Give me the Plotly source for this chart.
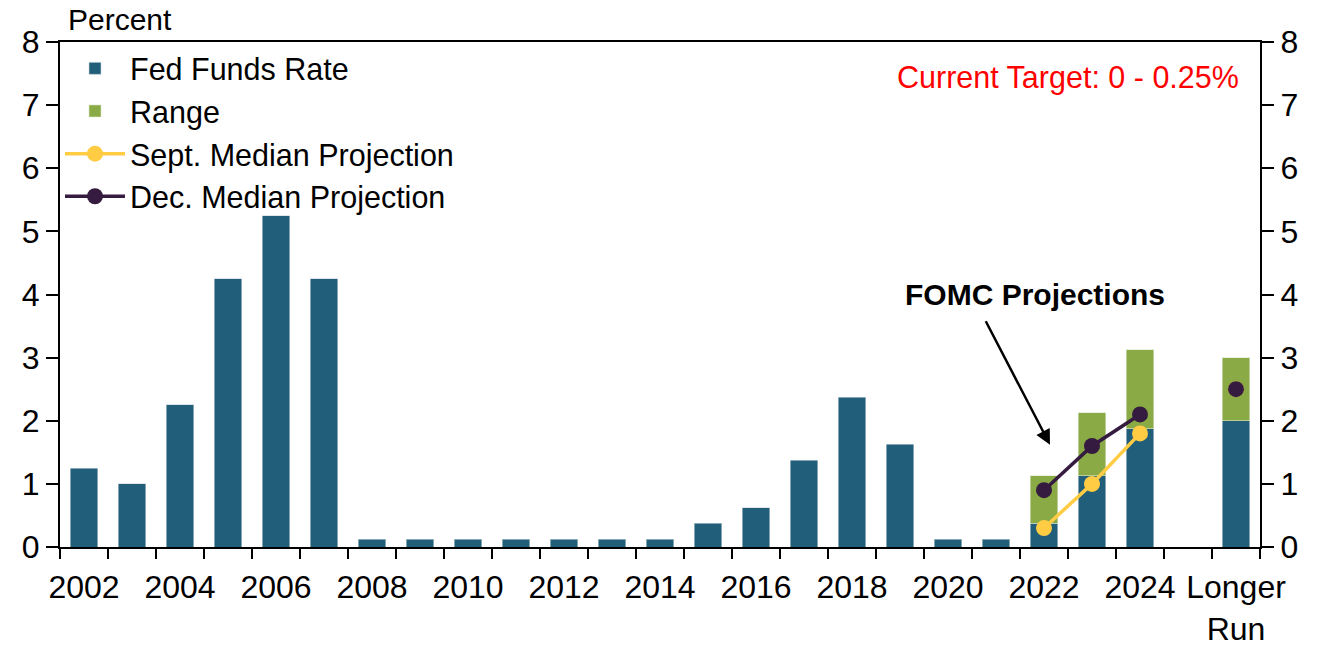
import plotly.graph_objects as go

# Calendar-year categories, a spacer, and the longer-run column
categories = [str(y) for y in range(2002, 2025)] + [" ", "Longer Run"]
tick_labels = [c if (c.isdigit() and int(c) % 2 == 0) else "" for c in categories[:-1]] + ["Longer<br>Run"]

fed_funds = [1.25, 1.0, 2.25, 4.25, 5.25, 4.25, 0.125, 0.125, 0.125, 0.125, 0.125, 0.125, 0.125,
             0.375, 0.625, 1.375, 2.375, 1.625, 0.125, 0.125, 0.375, 1.125, 1.875, None, 2.0]
range_high = {"2022": 1.125, "2023": 2.125, "2024": 3.125, "Longer Run": 3.0}
sept_median = {"2022": 0.3, "2023": 1.0, "2024": 1.8, "Longer Run": 2.5}
dec_median = {"2022": 0.9, "2023": 1.6, "2024": 2.1, "Longer Run": 2.5}

BLUE = "#215E79"
GREEN = "#8AAA45"
YELLOW = "#FFCC44"
PLUM = "#341B3F"
FONT = "Liberation Sans, Arial, sans-serif"

# green segment sits on top of the fed funds bar, reaching the range high
range_vals = [range_high[c] - base if c in range_high else None
              for c, base in zip(categories, fed_funds)]

proj_cats = ["2022", "2023", "2024", " ", "Longer Run"]
first_proj = categories.index("2022")

fig = go.Figure()
fig.add_trace(go.Bar(x=categories, y=fed_funds, name="Fed Funds Rate",
                     marker=dict(color=BLUE, line=dict(color="#C9D6DE", width=0.6)), width=0.57))
fig.add_trace(go.Bar(x=categories, y=range_vals, name="Range",
                     marker=dict(color=GREEN, line=dict(color="#DDE6CC", width=0.6)), width=0.57))
fig.add_trace(go.Scatter(x=proj_cats, y=[sept_median.get(c) for c in proj_cats],
                         name="Sept. Median Projection", mode="lines+markers",
                         line=dict(color=YELLOW, width=3.5), marker=dict(size=16, color=YELLOW)))
fig.add_trace(go.Scatter(x=proj_cats, y=[dec_median.get(c) for c in proj_cats],
                         name="Dec. Median Projection", mode="lines+markers",
                         line=dict(color=PLUM, width=3.5), marker=dict(size=16, color=PLUM)))
# right-hand scale mirrors the left
fig.add_trace(go.Scatter(x=[categories[0]], y=[None], yaxis="y2", showlegend=False, hoverinfo="skip"))

axis_font = dict(size=32, family=FONT, color="black")

fig.update_layout(
    width=1318, height=649,
    margin=dict(l=60, r=58, t=42, b=102, autoexpand=False),
    barmode="stack",
    plot_bgcolor="white", paper_bgcolor="white",
    font=dict(family=FONT, size=30, color="black"),
    showlegend=True,
    legend=dict(x=0.0, y=1.0, xanchor="left", yanchor="top", bgcolor="rgba(0,0,0,0)",
                font=dict(size=30.5), itemwidth=60, tracegroupgap=0, traceorder="normal"),
    xaxis=dict(type="category", categoryorder="array", categoryarray=categories,
               tickmode="array", tickvals=categories, ticktext=tick_labels, tickangle=0,
               tickson="boundaries", ticks="outside", ticklen=10, tickwidth=2, tickcolor="black",
               ticklabelstandoff=11,
               showline=True, linecolor="black", linewidth=2, mirror=True, automargin=False,
               showgrid=False, tickfont=axis_font, range=[-0.5, 24.5]),
    yaxis=dict(range=[0, 8], dtick=1, ticks="outside", ticklen=12, tickwidth=2, tickcolor="black",
               showline=True, linecolor="black", linewidth=2, showgrid=False, zeroline=False,
               automargin=False, tickfont=axis_font),
    yaxis2=dict(range=[0, 8], dtick=1, overlaying="y", side="right", ticks="outside", ticklen=12,
                tickwidth=2, tickcolor="black", showline=True, linecolor="black", linewidth=2,
                showgrid=False, zeroline=False, automargin=False, tickfont=axis_font),
    annotations=[
        dict(text="Percent", xref="paper", yref="paper", x=0.005, y=1.0, yshift=4,
             xanchor="left", yanchor="bottom", showarrow=False, font=dict(size=30)),
        dict(text="Current Target: 0 - 0.25%", xref="paper", yref="paper", x=0.984, y=0.93,
             xanchor="right", yanchor="middle", showarrow=False, font=dict(size=30.5, color="#FF0000")),
        dict(text="<b>FOMC Projections</b>", xref="x", yref="y", x=first_proj, y=4.0, xshift=-9,
             xanchor="center", yanchor="middle", showarrow=False, font=dict(size=30)),
        dict(text="", xref="x", yref="y", x=first_proj, y=1.62, xshift=6, ax=-65, ay=-125,
             showarrow=True, arrowhead=2, arrowsize=1.2, arrowwidth=2.5, arrowcolor="black"),
    ],
)

fig.write_html("out.html")
